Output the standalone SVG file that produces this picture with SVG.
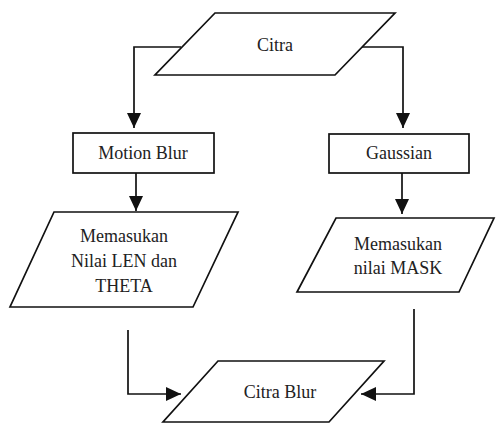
<svg xmlns="http://www.w3.org/2000/svg" width="496" height="424" viewBox="0 0 496 424">
<defs>
<style>
.shape{fill:#fff;stroke:#111;stroke-width:1.7}
.conn{fill:none;stroke:#111;stroke-width:1.7}
text{font-family:"Liberation Serif","Times New Roman",serif;font-size:18px;fill:#222;text-anchor:middle;dominant-baseline:central}
</style>
<marker id="arr" viewBox="0 0 15 14" refX="15" refY="7" markerWidth="15" markerHeight="14" markerUnits="userSpaceOnUse" orient="auto">
<path d="M0,0 L15,7 L0,14 Z" fill="#111"/>
</marker>
</defs>
<rect width="496" height="424" fill="#fff"/>
<g id="connectors">
<polyline class="conn" points="181,47 134,47 134,128" marker-end="url(#arr)"/>
<polyline class="conn" points="362,47 403,47 403,128" marker-end="url(#arr)"/>
<line class="conn" x1="136" y1="173" x2="136" y2="211" marker-end="url(#arr)"/>
<line class="conn" x1="402" y1="173" x2="402" y2="214" marker-end="url(#arr)"/>
<polyline class="conn" points="128,330 128,394 181,394" marker-end="url(#arr)"/>
<polyline class="conn" points="414,309 414,394 361,394" marker-end="url(#arr)"/>
</g>
<g id="citra">
<polygon class="shape" points="215,13 395,13 335,75 155,75"/>
<text x="275" y="45">Citra</text>
</g>
<g id="motion-blur">
<rect class="shape" x="73" y="133" width="141" height="40"/>
<text x="143" y="153">Motion Blur</text>
</g>
<g id="gaussian">
<rect class="shape" x="329" y="134" width="140" height="39"/>
<text x="399" y="153">Gaussian</text>
</g>
<g id="input-len-theta">
<polygon class="shape" points="54,212 238,212 193,307 10,307"/>
<text x="124" y="236">Memasukan</text>
<text x="124" y="261">Nilai LEN dan</text>
<text x="124" y="286">THETA</text>
</g>
<g id="input-mask">
<polygon class="shape" points="336,218 494,218 459,292 297,292"/>
<text x="398" y="244">Memasukan</text>
<text x="398" y="268">nilai MASK</text>
</g>
<g id="citra-blur">
<polygon class="shape" points="218,361 384,361 329,422 163,422"/>
<text x="280" y="392">Citra Blur</text>
</g>
</svg>
